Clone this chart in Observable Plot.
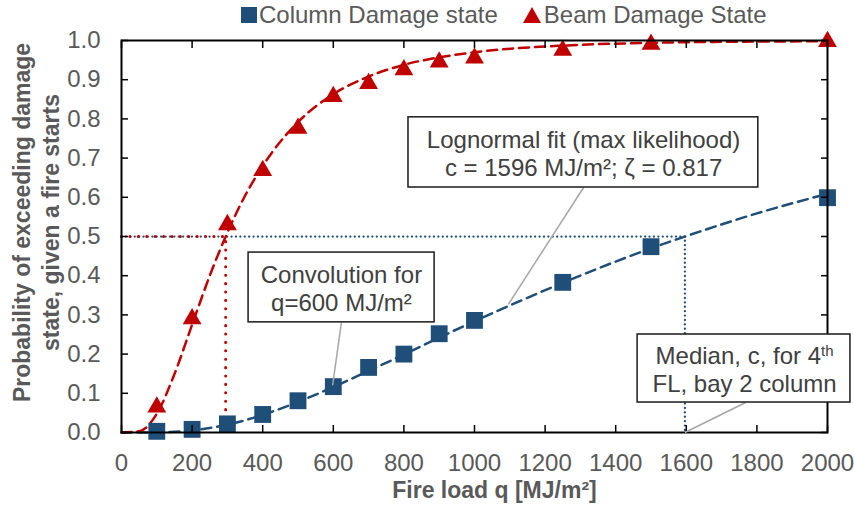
<!DOCTYPE html>
<html><head><meta charset="utf-8">
<script src="https://cdn.jsdelivr.net/npm/d3@7"></script>
<script src="https://cdn.jsdelivr.net/npm/@observablehq/plot@0.6"></script>
<style>
body{margin:0;background:#fff;font-family:"Liberation Sans",Arial,sans-serif;}
#legend{height:30px;display:flex;align-items:center;padding-left:241px;font-size:24px;color:#595959;white-space:nowrap;}
#legend .sq{display:inline-block;width:16px;height:16px;background:#1F4E79;margin-right:2px;}
#legend .tri{display:inline-block;width:18px;height:16px;margin-left:25px;margin-right:3px;}
</style></head><body>
<div id="legend"></div>
<div id="chart"></div>
<script>
// ---- data ----
const fireLoad = [100, 200, 300, 400, 500, 600, 700, 800, 900, 1000, 1250, 1500, 2000];
const columnProb = [0.003, 0.008, 0.022, 0.046, 0.081, 0.117, 0.166, 0.200, 0.252, 0.286, 0.383, 0.474, 0.599];
const beamProb = [0.065, 0.290, 0.530, 0.668, 0.776, 0.857, 0.890, 0.925, 0.945, 0.955, 0.975, 0.990, 0.997];

// fitted (dashed) curves
const columnFitQ = [0, 100, 200, 300, 400, 500, 600, 700, 800, 900, 1000, 1100, 1250, 1400, 1500, 1600, 1800, 2000];
const columnFitP = [0, 0.0004, 0.0055, 0.020, 0.045, 0.078, 0.116, 0.157, 0.199, 0.242, 0.284, 0.324, 0.382, 0.436, 0.470, 0.501, 0.559, 0.609];
const beamFitQ = [0, 50, 100, 150, 200, 250, 300, 350, 400, 500, 600, 700, 800, 900, 1000, 1250, 1500, 1750, 2000];
const beamFitP = [0, 0.003, 0.048, 0.149, 0.275, 0.400, 0.510, 0.604, 0.680, 0.792, 0.863, 0.908, 0.938, 0.957, 0.970, 0.987, 0.994, 0.997, 0.998];

const columnMedian = 1596;
const beamMedian = 295;
const halfProb = 0.5;

const xTicks = [0, 200, 400, 600, 800, 1000, 1200, 1400, 1600, 1800, 2000];
const yTicks = [0, 0.1, 0.2, 0.3, 0.4, 0.5, 0.6, 0.7, 0.8, 0.9, 1.0];

const seriesNames = ["Column Damage state", "Beam Damage State"];
const xTitle = "Fire load q [MJ/m²]";
const yTitle = "Probability of exceeding damage\nstate, given a fire starts";

// annotation callouts (data coordinates)
const annotations = [
  {label: "Lognormal fit (max likelihood)\nc = 1596 MJ/m²; ζ = 0.817", tx: 1309, ty: 0.712,
   bx1: 813, bx2: 1804, by1: 0.625, by2: 0.804, lx1: 1309, ly1: 0.625, lx2: 1096, ly2: 0.327},
  {label: "Convolution for\nq=600 MJ/m²", tx: 623, ty: 0.369,
   bx1: 360, bx2: 887, by1: 0.281, by2: 0.459, lx1: 623, ly1: 0.281, lx2: 598, ly2: 0.12},
  {label: "Median, c, for 4th\nFL, bay 2 column", tx: 1765, ty: 0.161,
   bx1: 1462, bx2: 2065, by1: 0.0765, by2: 0.25, lx1: 1768, ly1: 0.0765, lx2: 1596, ly2: 0}
];

// ---- styling ----
const blue = "#1F4E79";
const red = "#C00000";
const grey = "#595959";

// legend
const legend = document.getElementById("legend");
legend.innerHTML =
  `<span class="sq"></span><span>${seriesNames[0]}</span>` +
  `<svg class="tri" viewBox="0 0 18 16"><polygon points="9,0 18,16 0,16" fill="${red}"/></svg><span>${seriesNames[1]}</span>`;

const colData = fireLoad.map((q, i) => ({q, p: columnProb[i]}));
const beamData = fireLoad.map((q, i) => ({q, p: beamProb[i]}));
const colFit = columnFitQ.map((q, i) => ({q, p: columnFitP[i]}));
const beamFit = beamFitQ.map((q, i) => ({q, p: beamFitP[i]}));
const colGuide = [{q: 0, p: halfProb}, {q: columnMedian, p: halfProb}, {q: columnMedian, p: 0}];
const beamGuide = [{q: 0, p: halfProb}, {q: beamMedian, p: halfProb}, {q: beamMedian, p: 0}];

const chart = Plot.plot({
  width: 854, height: 476,
  marginLeft: 121, marginRight: 27, marginTop: 10, marginBottom: 74,
  x: {domain: [0, 2000]},
  y: {domain: [0, 1]},
  style: {fontFamily: "'Liberation Sans', Arial, sans-serif", fontSize: "24px", color: grey, background: "white", overflow: "visible"},
  marks: [
    Plot.line(colGuide, {x: "q", y: "p", stroke: blue, strokeWidth: 2.25, strokeDasharray: "0.1 4.3", strokeLinecap: "round"}),
    Plot.line(beamGuide, {x: "q", y: "p", stroke: red, strokeWidth: 3, strokeDasharray: "0.1 8.3", strokeLinecap: "round"}),
    Plot.line(colFit, {x: "q", y: "p", stroke: blue, strokeWidth: 2.5, strokeDasharray: "10 6", curve: "monotone-x"}),
    Plot.line(beamFit, {x: "q", y: "p", stroke: red, strokeWidth: 2.5, strokeDasharray: "10 6", curve: "monotone-x"}),
    Plot.dot(colData, {x: "q", y: "p", symbol: "square", r: 9.5, fill: blue}),
    Plot.dot(beamData, {x: "q", y: "p", symbol: "triangle", r: 7, fill: red}),
    Plot.frame({stroke: "black", strokeWidth: 2}),
    Plot.axisY({ticks: yTicks, tickFormat: d3.format(".1f"), tickSize: -7, tickPadding: 28, label: null, stroke: "black", strokeWidth: 1.5}),
    Plot.axisY({anchor: "right", ticks: yTicks, tickFormat: () => "", tickSize: -7, label: null, stroke: "black", strokeWidth: 1.5}),
    Plot.axisX({ticks: xTicks, tickFormat: d3.format("d"), tickSize: -7, tickPadding: 28, label: null, stroke: "black", strokeWidth: 1.5}),
    Plot.axisX({anchor: "top", ticks: xTicks, tickFormat: () => "", tickSize: -7, label: null, stroke: "black", strokeWidth: 1.5}),
    Plot.link(annotations, {x1: "lx1", y1: "ly1", x2: "lx2", y2: "ly2", stroke: "#A6A6A6", strokeWidth: 1.5}),
    Plot.rect(annotations, {x1: "bx1", x2: "bx2", y1: "by1", y2: "by2", fill: "white", stroke: "#1a1a1a", strokeWidth: 1.5}),
    Plot.text(annotations, {x: "tx", y: "ty", text: "label", fill: "#404040", fontSize: 24, lineHeight: 1.17}),
    Plot.text([xTitle], {frameAnchor: "bottom", textAnchor: "middle", lineAnchor: "middle", dx: 20, dy: 58, fontWeight: "bold", fontSize: 23, fill: grey}),
    Plot.text([yTitle], {frameAnchor: "left", textAnchor: "middle", rotate: -90, dx: -112, dy: -14, lineAnchor: "top", lineHeight: 1.25, fontWeight: "bold", fontSize: 23, fill: grey})
  ]
});
document.getElementById("chart").appendChild(chart);

// superscript "th" in the median callout
chart.querySelectorAll("tspan, text").forEach(el => {
  if (el.childElementCount === 0 && el.textContent === "Median, c, for 4th") {
    el.textContent = "Median, c, for 4";
    const sup = document.createElementNS("http://www.w3.org/2000/svg", "tspan");
    sup.setAttribute("baseline-shift", "super");
    sup.setAttribute("font-size", "15");
    sup.textContent = "th";
    el.appendChild(sup);
  }
});
</script></body></html>
